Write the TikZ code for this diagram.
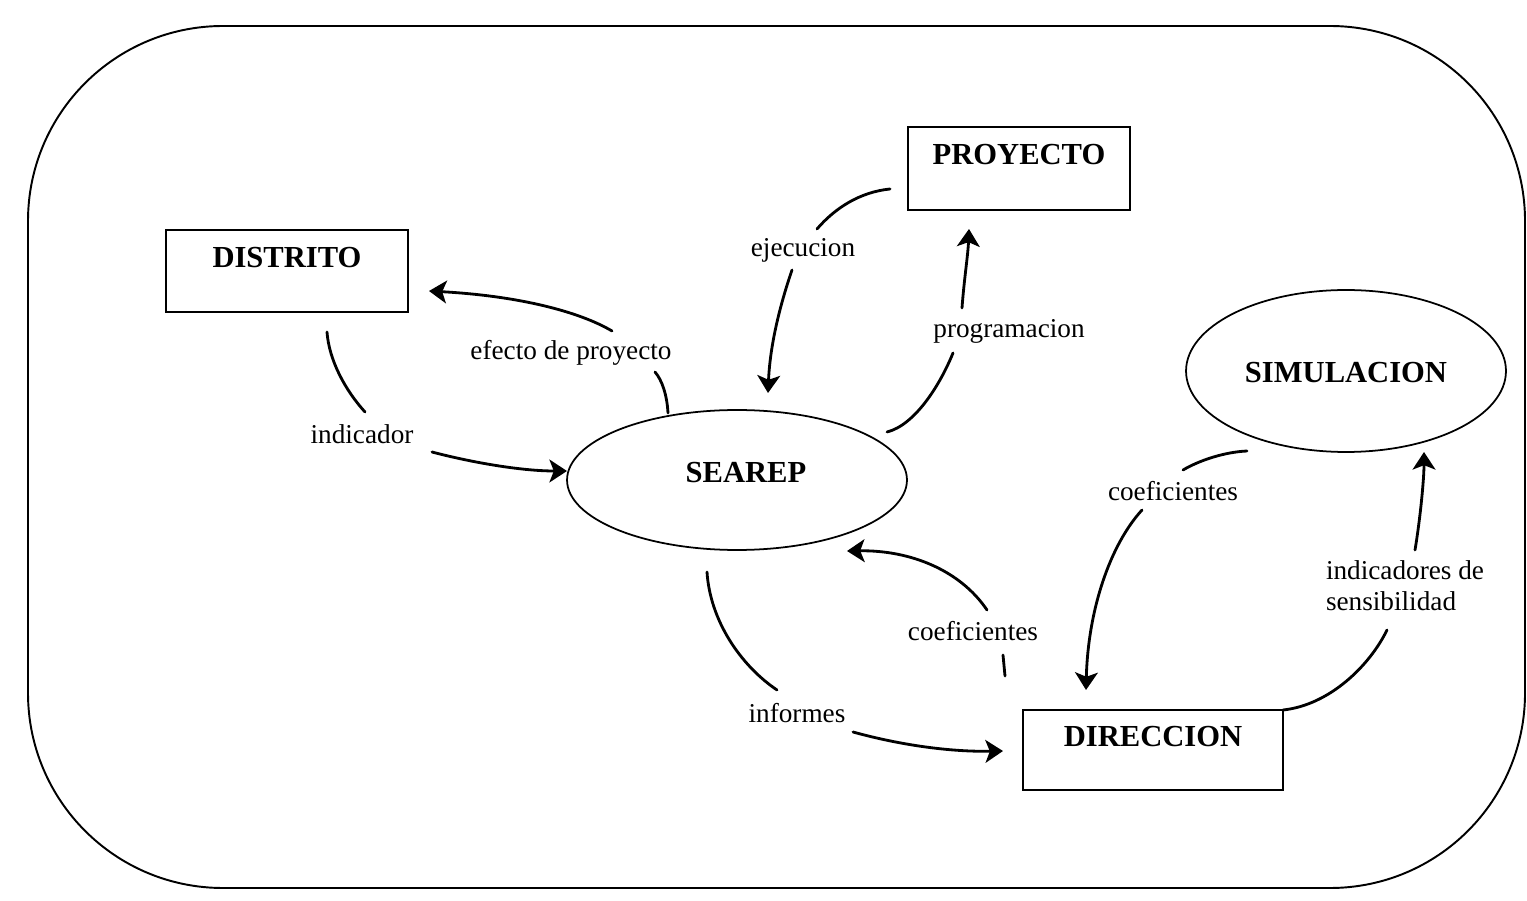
\documentclass[tikz,border=0pt]{standalone}
\usepackage{fontspec}
\setmainfont{Liberation Serif}
\usetikzlibrary{arrows.meta,shapes.geometric}
\begin{document}
\begin{tikzpicture}[x=0.02cm,y=-0.02cm,
  entity/.style={draw,line width=1.5pt,inner sep=0pt,
    font=\fontsize{17.4}{20}\selectfont\bfseries},
  process/.style={draw,ellipse,line width=1pt,inner sep=0pt,
    font=\fontsize{17.4}{20}\selectfont\bfseries},
  flowlabel/.style={inner sep=0pt,font=\fontsize{15.5}{17.6}\selectfont},
  flow/.style={line width=1.6pt,line cap=round},
  flowtip/.style={flow,-{Stealth[length=10pt,width=13pt,inset=2.5pt]}},
  frame/.style={line width=1.1pt,rounded corners=3.9cm}]

\useasboundingbox (0,0) rectangle (1527,901);

% outer boundary of the system
\draw[frame] (28,26) rectangle (1525,888);

% external entities
\node[entity,minimum width=4.84cm,text height=0.76cm,text depth=0.88cm]
  (distrito) at (287,271) {DISTRITO};
\node[entity,minimum width=4.44cm,text height=0.76cm,text depth=0.90cm]
  (proyecto) at (1019,168.5) {PROYECTO};
\node[entity,minimum width=5.2cm,text height=0.72cm,text depth=0.88cm]
  (direccion) at (1153,750) {DIRECCION};

% processes
\node[process,minimum width=6.8cm,minimum height=2.8cm,text height=0.4cm,text depth=0.28cm]
  (searep) at (737,480) {\hspace{0.36cm}SEAREP};
\node[process,minimum width=6.4cm,minimum height=3.24cm,text height=0.48cm,text depth=0cm]
  (simul) at (1346,371) {SIMULACION};

% flow labels
\node[flowlabel] (ind)   at (362,434)  {indicador};
\node[flowlabel] (efe)   at (571,353)  {efecto de proyecto};
\node[flowlabel] (eje)   at (803,250)  {ejecucion};
\node[flowlabel] (prog)  at (1009,331) {programacion};
\node[flowlabel] (inf)   at (797,713)  {informes};
\node[flowlabel] (coefa) at (973,631)  {coeficientes};
\node[flowlabel] (coefb) at (1173,491) {coeficientes};
\node[flowlabel,align=left] (sens) at (1405,586) {indicadores de\\sensibilidad};

% DISTRITO -> SEAREP
\draw[flow] ([shift={(40,61)}]distrito.center) .. controls +(2,28) and +(-20,-22) .. ([shift={(3,-22)}]ind.center);
\draw[flowtip] ([shift={(70,18)}]ind.center) .. controls +(38,10) and +(-47,0) .. ([shift={(-170,-9)}]searep.center);

% SEAREP -> DISTRITO
\draw[flow] ([shift={(-69,-67)}]searep.center) .. controls +(-1,-18) and +(7,8) .. ([shift={(84,19)}]efe.center);
\draw[flowtip] ([shift={(41,-22)}]efe.center) .. controls +(-32,-19) and +(91,5) .. ([shift={(142,20)}]distrito.center);

% PROYECTO -> SEAREP
\draw[flow] ([shift={(-129,20.5)}]proyecto.center) .. controls +(-30,3) and +(18,-21) .. ([shift={(14,-21)}]eje.center);
\draw[flowtip] ([shift={(-11,20)}]eje.center) .. controls +(-12,35) and +(2,-48) .. ([shift={(31,-87)}]searep.center);

% SEAREP -> PROYECTO
\draw[flow] ([shift={(150,-48)}]searep.center) .. controls +(28,-7) and +(-13,32) .. ([shift={(-56,22)}]prog.center);
\draw[flowtip] ([shift={(-47,-23)}]prog.center) .. controls +(2,-28) and +(-1,26) .. ([shift={(-50,60.5)}]proyecto.center);

% SEAREP -> DIRECCION
\draw[flow] ([shift={(-30,92)}]searep.center) .. controls +(3,48) and +(-37,-25) .. ([shift={(-20,-23)}]inf.center);
\draw[flowtip] ([shift={(56,19)}]inf.center) .. controls +(47,13) and +(-53,1) .. ([shift={(-150,1)}]direccion.center);

% DIRECCION -> SEAREP
\draw[flow] ([shift={(-148,-74)}]direccion.center) -- ([shift={(30,24)}]coefa.center);
\draw[flowtip] ([shift={(14,-21)}]coefa.center) .. controls +(-27,-40) and +(63,-1) .. ([shift={(110,71)}]searep.center);

% SIMULACION -> DIRECCION
\draw[flow] ([shift={(-99,80)}]simul.center) .. controls +(-22,1) and +(17,-10) .. ([shift={(10,-21)}]coefb.center);
\draw[flowtip] ([shift={(-31,19)}]coefb.center) .. controls +(-32,35) and +(2,-80) .. ([shift={(-67,-60)}]direccion.center);

% DIRECCION -> SIMULACION
\draw[flow] ([shift={(130,-40)}]direccion.center) .. controls +(47,-5) and +(-17,35) .. ([shift={(-18,44)}]sens.center);
\draw[flowtip] ([shift={(10,-36)}]sens.center) .. controls +(5,-30) and +(0,28) .. ([shift={(78,81)}]simul.center);

\end{tikzpicture}
\end{document}
